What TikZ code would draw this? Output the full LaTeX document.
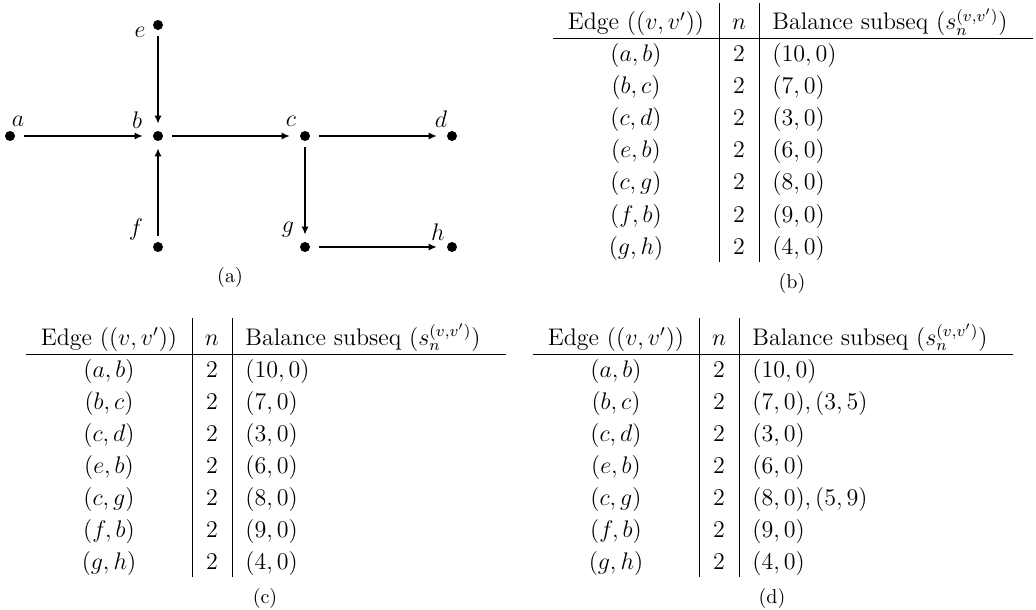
\documentclass[tikz,border=0pt]{standalone}
\usetikzlibrary{arrows.meta,positioning}
\tikzset{
  vertex/.style={circle,fill,inner sep=0pt,minimum size=5pt},
  vlabel/.style={inner sep=0pt,font=\fontsize{12}{14}\selectfont},
  flow/.style={-{Latex[length=4pt,width=3.5pt]},semithick,shorten <=4.5pt,shorten >=5pt},
  drop/.style={flow,shorten <=3pt,shorten >=3.5pt},
  cell/.style={inner sep=0pt,anchor=base,font=\fontsize{12}{14}\selectfont},
  leftcell/.style={cell,anchor=base west},
  subcap/.style={inner sep=0pt,font=\fontsize{10}{12}\selectfont},
  midrule/.style={line width=0.5pt},
  colrule/.style={line width=0.4pt}
}
% one balance table: name, origin (left end of the rule), caption, rows
\newcommand{\edgetable}[4]{%
  \begin{scope}[shift={#2}]
    \draw[midrule] (0,0) -- (480,0);
    \draw[colrule] (166,-36) -- (166,223);
    \draw[colrule] (206,-36) -- (206,223);
    \node[cell] (#1-edge) at (83,-9) {Edge ($(v,v')$)};
    \node[cell] (#1-n) at (186,-9) {$n$};
    \node[leftcell] (#1-bal) at (219,-9) {Balance subseq ($s_n^{(v,v')}$)};
    \foreach \p/\q/\bal [count=\r from 0] in {#4} {
      \node[cell] (#1-e\r) at (83,23+32*\r) {$(\p,\q)$};
      \node[cell] (#1-n\r) at (186,23+32*\r) {$2$};
      \node[leftcell] (#1-s\r) at (219,23+32*\r) {$\bal$};
    }
    \node[subcap] (#1-cap) at (239,244) {#3};
  \end{scope}}
\begin{document}
\begin{tikzpicture}[x=0.5pt,y=-0.5pt]
  \useasboundingbox (0,0) rectangle (1036,609);
  % graph
  \node[vertex] (a) at (10,136) {};
  \node[vertex] (b) at (158,136) {};
  \node[vertex] (c) at (305,136) {};
  \node[vertex] (d) at (452,136) {};
  \node[vertex] (e) at (158,25) {};
  \node[vertex] (f) at (158,247) {};
  \node[vertex] (g) at (305,247) {};
  \node[vertex] (h) at (452,247) {};
  \node[vlabel] (la) at ([shift={(8,-15)}]a) {$a$};
  \node[vlabel] (lb) at ([shift={(-21,-16)}]b) {$b$};
  \node[vlabel] (lc) at ([shift={(-14,-15)}]c) {$c$};
  \node[vlabel] (ld) at ([shift={(-11,-17)}]d) {$d$};
  \node[vlabel] (le) at ([shift={(-18,7)}]e) {$e$};
  \node[vlabel] (lf) at ([shift={(-22,-18)}]f) {$f$};
  \node[vlabel] (lg) at ([shift={(-17,-17)}]g) {$g$};
  \node[vlabel] (lh) at ([shift={(-14,-15)}]h) {$h$};
  \draw[flow] (a) -- (b);
  \draw[flow] (b) -- (c);
  \draw[flow] (c) -- (d);
  \draw[flow] (g) -- (h);
  \draw[drop] (e) -- (b);
  \draw[drop] (f) -- (b);
  \draw[drop] (c) -- (g);
  \node[subcap] (acap) at (230,277) {(a)};
  % tables
  \edgetable{tb}{(553,39)}{(b)}{a/b/{(10,0)},b/c/{(7,0)},c/d/{(3,0)},e/b/{(6,0)},c/g/{(8,0)},f/b/{(9,0)},g/h/{(4,0)}}
  \edgetable{tc}{(26,354)}{(c)}{a/b/{(10,0)},b/c/{(7,0)},c/d/{(3,0)},e/b/{(6,0)},c/g/{(8,0)},f/b/{(9,0)},g/h/{(4,0)}}
  \edgetable{td}{(533,354)}{(d)}{a/b/{(10,0)},b/c/{(7,0),(3,5)},c/d/{(3,0)},e/b/{(6,0)},c/g/{(8,0),(5,9)},f/b/{(9,0)},g/h/{(4,0)}}
\end{tikzpicture}
\end{document}
